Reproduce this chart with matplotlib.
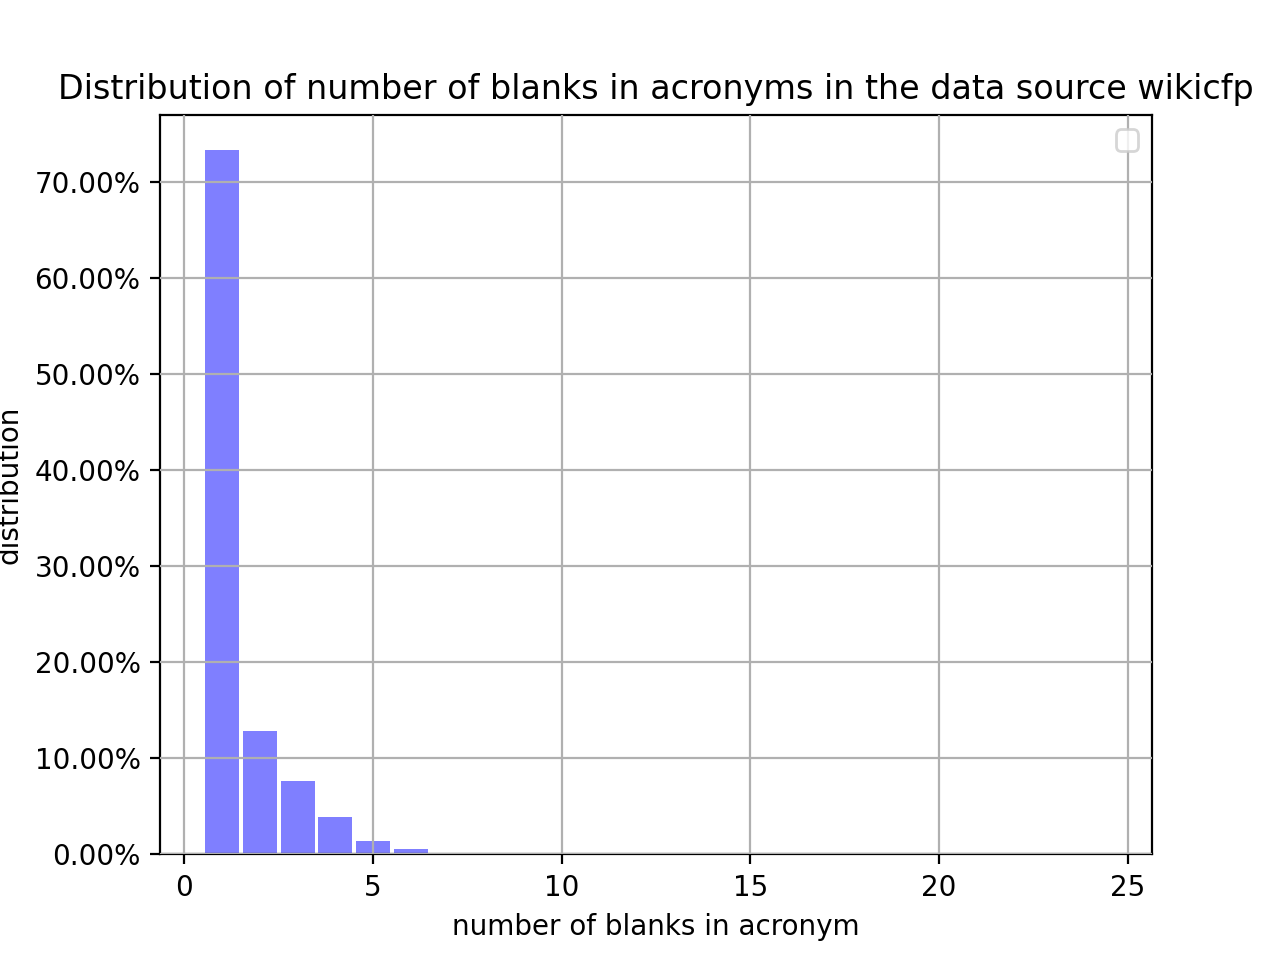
import matplotlib
matplotlib.use("Agg")
import matplotlib.pyplot as plt
from matplotlib.ticker import PercentFormatter

# number of blanks (1..24) and share of acronyms
blanks = list(range(1, 25))
share = [0.7333, 0.129, 0.076, 0.0385, 0.0135, 0.0052] + [0.0] * 18

fig, ax = plt.subplots(figsize=(6.4, 4.8), dpi=200)
ax.bar(blanks, share, width=0.9, color="blue", alpha=0.5)
ax.yaxis.set_major_formatter(PercentFormatter(xmax=1, decimals=2))
ax.set_xticks([0, 5, 10, 15, 20, 25])
ax.grid(True)
ax.set_axisbelow(False)
ax.legend(handles=[], loc="upper right")
ax.set_title("Distribution of number of blanks in acronyms in the data source wikicfp")
ax.set_xlabel("number of blanks in acronym")
ax.set_ylabel("distribution")
fig.savefig("out.png")
